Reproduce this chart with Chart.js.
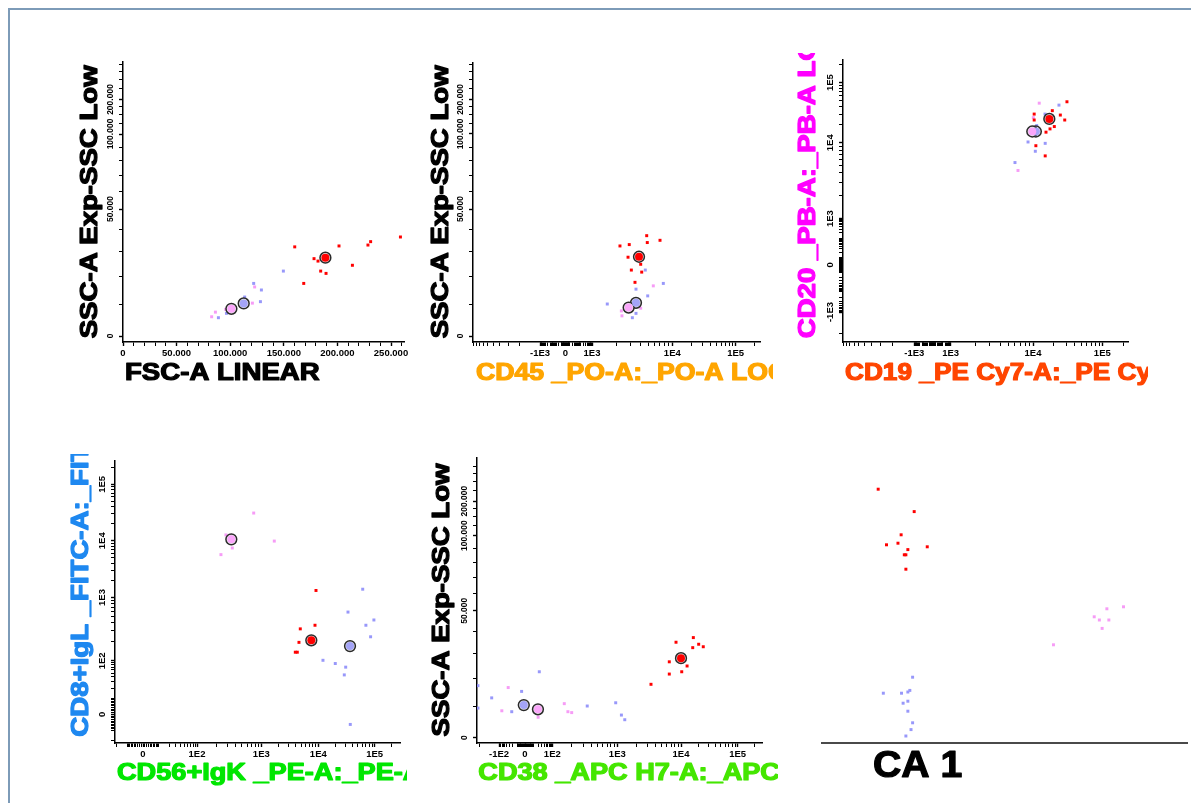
<!DOCTYPE html>
<html>
<head>
<meta charset="utf-8">
<script src="https://cdn.jsdelivr.net/npm/chart.js@4.4.1/dist/chart.umd.min.js"></script>
<style>
  html, body { margin: 0; background: #fff; width: 1191px; height: 803px; overflow: hidden; }
  #frame { position: absolute; left: 8px; top: 8px; right: 0; bottom: 0;
           border-left: 2px solid #7d9bb8; border-top: 2px solid #7d9bb8; }
  canvas { position: absolute; }
</style>
</head>
<body>
<div id="frame"></div>
<canvas id="p1" width="350" height="355" style="left:70px;top:45px"></canvas>
<canvas id="p2" width="353" height="355" style="left:420px;top:45px"></canvas>
<canvas id="p3" width="358" height="347" style="left:790px;top:53px"></canvas>
<canvas id="p4" width="347" height="346" style="left:60px;top:454px"></canvas>
<canvas id="p5" width="358" height="355" style="left:420px;top:445px"></canvas>
<canvas id="p6" width="391" height="340" style="left:800px;top:460px"></canvas>
<script>
const RED = '#ff0000', BLUE = '#9898fa', PINK = '#f69cf6';
const BLUE_M = '#a4a4f8', PINK_M = '#fba6fb';

// plot 1: FSC-A (x) vs SSC-A (y)
const p1RedX = [160200, 201500, 228500, 231000, 258800, 178200, 181900, 184400, 189400, 214000, 168600];
const p1RedY = [32100, 32500, 32900, 34400, 36500, 27100, 26100, 22100, 21200, 24400, 17400];
const p1BlueX = [149600, 121900, 129100, 128200, 113500, 96500, 89000];
const p1BlueY = [22100, 17400, 15000, 10900, 12500, 7000, 5600];
const p1PinkX = [122800, 120700, 86200, 82700, 95800];
const p1PinkY = [16100, 10400, 7400, 5900, 8300];
const p1MedX = [188800, 112600, 101100]; // red, blue, pink
const p1MedY = [27500, 10300, 8500];

// plot 2: CD45 (x) vs SSC-A (y)
const p2RedX = [4800, 7030, 4880, 2910, 2230, 2810, 4040, 3090, 4160, 3430];
const p2RedY = [37100, 35000, 34000, 33100, 32500, 27700, 24800, 22500, 21700, 17800];
const p2BlueX = [4610, 7730, 3530, 4940, 1550, 3530, 3180];
const p2BlueY = [22500, 17400, 15300, 12900, 10100, 7000, 5600];
const p2PinkX = [5800, 2320, 2360, 4040];
const p2PinkY = [16500, 7800, 6200, 8700];
const p2MedX = [3850, 3530, 2860];
const p2MedY = [27900, 10500, 8900];

// plot 3: CD19 (x) vs CD20 (y)
const p3RedX = [30900, 24800, 28700, 19000, 10400, 10400, 20300, 17600, 15400, 11000, 15000];
const p3RedY = [48100, 28900, 23900, 34200, 30000, 23900, 18600, 17000, 15000, 9140, 6710];
const p3BlueX = [23700, 14900, 11300, 8700, 15000, 10800, 6040];
const p3BlueY = [42300, 30000, 19300, 10300, 9820, 7720, 5480];
const p3PinkX = [12300, 10100, 6570];
const p3PinkY = [45600, 26200, 4310];
const p3MedX = [17200, 11000, 9800];
const p3MedY = [24900, 15400, 15400];

// plot 4: CD56+IgK (x) vs CD8+IgL (y)
const p4RedX = [9110, 8750, 4830, 4580, 3950, 4280];
const p4RedY = [1330, 365, 320, 196, 137, 137];
const p4BlueX = [61300, 33600, 69800, 96800, 84600, 12100, 20000, 30600, 28900, 36900];
const p4BlueY = [1400, 589, 365, 442, 240, 102, 86, 70, 45, -6];
const p4PinkX = [762, 282, 1690, 354, 236];
const p4PinkY = [31000, 12700, 9880, 7460, 5700];
const p4MedX = [7540, 36500, 342];
const p4MedY = [211, 171, 10600];

// plot 5: CD38 (x) vs SSC-A (y)
const p5RedX = [16500, 8350, 20500, 24700, 16100, 6550, 12800, 6550, 10300, 3380];
const p5RedY = [37000, 34900, 34000, 32900, 32500, 26500, 24800, 21600, 22500, 17700];
const p5BlueX = [23, -4, -129, -208, -208, -22, 345, 945, 1160, 1310];
const p5BlueY = [22500, 15100, 12800, 17200, 9300, 8100, 10000, 11100, 7000, 5500];
const p5PinkX = [-34, -72, 153, 174, 199, 20];
const p5PinkY = [16500, 8400, 10800, 8100, 7800, 6300];
const p5MedX = [10000, -1.4, 19.5];
const p5MedY = [28000, 10300, 8900];

// plot 6: canonical analysis CA 1 (x) vs CA 2 (y)
const p6RedX = [-3.03, -2.12, -2.45, -2.82, -2.53, -2.28, -2.37, -2.33, -1.79, -2.33];
const p6RedY = [3.27, 2.71, 2.13, 1.88, 1.92, 1.76, 1.63, 1.63, 1.83, 1.27];
const p6BlueX = [-2.16, -2.9, -2.44, -2.28, -2.23, -2.4, -2.28, -2.28, -2.16, -2.2, -2.33];
const p6BlueY = [-1.43, -1.83, -1.83, -1.8, -1.76, -2.08, -2.03, -2.28, -2.57, -2.74, -2.9];
const p6PinkX = [2.75, 3.17, 2.43, 2.56, 2.8, 2.63, 1.4];
const p6PinkY = [0.28, 0.33, 0.08, 0, 0, -0.21, -0.62];

// tick labels
const fscTicks = [0, 50000, 100000, 150000, 200000, 250000];
const fscLabels = ['0', '50.000', '100.000', '150.000', '200.000', '250.000'];
const sscTicks = [0, 50000, 100000, 200000];
const sscLabels = ['0', '50.000', '100.000', '200.000'];
const cd45Ticks = [-1000, 0, 1000, 10000, 100000];
const cd45Labels = ['-1E3', '0', '1E3', '1E4', '1E5'];
const cd19Ticks = [-1000, 1000, 10000, 100000];
const cd19Labels = ['-1E3', '1E3', '1E4', '1E5'];
const cd20Ticks = [-1000, 0, 1000, 10000, 100000];
const cd20Labels = ['-1E3', '0', '1E3', '1E4', '1E5'];
const decTicks = [0, 100, 1000, 10000, 100000];
const decLabels = ['0', '1E2', '1E3', '1E4', '1E5'];
const cd38Ticks = [-100, 0, 100, 1000, 10000, 100000];
const cd38Labels = ['-1E2', '0', '1E2', '1E3', '1E4', '1E5'];

// ---- axis transforms (scale units = pixels from the zero tick) ----
function warped(warp, vals, pos) {
  const w = vals.map(warp);
  return v => {
    const x = warp(v);
    let i = 0;
    while (i < w.length - 2 && x > w[i + 1]) i++;
    return pos[i] + (x - w[i]) * (pos[i + 1] - pos[i]) / (w[i + 1] - w[i]);
  };
}
const asw = v => Math.asinh(v / 10);
const sscWarp = v => Math.log(1 + v / 66700);

const fscPos = v => v * 53.6 / 50000;
const sscPos = warped(sscWarp, [0, 50000, 100000, 200000, 400000], [0, 126.9, 202, 236.5, 271.2]);
const cd45Pos = warped(asw, [-10000, -1000, 0, 1000, 10000, 100000], [-92.3, -25.3, 0, 26.7, 107, 170.4]);
const cd19Pos = warped(asw, [-10000, -1000, 0, 1000, 10000, 100000], [-89.5, -18.2, 0, 18.2, 100.5, 169.8]);
const cd20Pos = warped(asw, [-10000, -1000, 0, 1000, 10000, 100000], [-120, -47.7, 0, 46.7, 123.3, 184]);
const cd56Pos = warped(asw, [-100, 0, 100, 1000, 10000, 100000], [-54, 0, 54, 118.3, 175.3, 231.7]);
const cd8Pos = warped(asw, [-100, 0, 100, 1000, 10000, 100000], [-54, 0, 54, 118, 175.3, 232.3]);
const cd38Pos = warped(asw, [-1000, -100, 0, 100, 1000, 10000, 100000], [-92.3, -26, 0, 27.3, 92.3, 156, 212.7]);

const logMinor = [0];
for (let d = 1; d <= 100000; d *= 10) for (let k = 1; k <= 9; k++) logMinor.push(k * d, -k * d);
const fscMinor = [];
for (let v = 10000; v <= 260000; v += 10000) fscMinor.push(v);
const sscMinor = [10000, 20000, 30000, 40000, 60000, 70000, 80000, 90000, 125000, 150000, 175000, 250000, 300000, 350000, 400000];

const FAMILY = '"Liberation Sans", Arial, sans-serif';
const meas = document.createElement('canvas').getContext('2d');
function widest(labels, size) {
  meas.font = `bold ${size}px ${FAMILY}`;
  return Math.max(...labels.map(l => meas.measureText(l).width));
}

function axis(isX, t, min, max, majors, labels, minors, size, fontSize = 9.5) {
  const list = majors.map((v, i) => ({ value: t(v), lbl: labels[i], big: true }));
  minors.filter(v => !majors.includes(v)).forEach(v => list.push({ value: t(v), lbl: '', big: false }));
  const ticks = list.filter(k => k.value >= min - 0.01 && k.value <= max + 0.01).sort((a, b) => a.value - b.value);
  return {
    type: 'linear', min, max,
    afterBuildTicks: s => { s.ticks = ticks.map(k => ({ ...k })); },
    afterFit: s => { if (isX) s.height = size; else s.width = size; },
    grid: { drawOnChartArea: false, tickLength: 4, tickColor: '#000',
            tickWidth: c => (c.tick && c.tick.big ? 1.4 : 1) },
    border: { color: '#000', width: 1.5 },
    ticks: {
      autoSkip: false, maxTicksLimit: 1000, color: '#000',
      font: { family: FAMILY, size: fontSize, weight: 'bold' },
      padding: isX ? 2 : 8.5 - widest(labels, fontSize) / 2,
      minRotation: isX ? 0 : 90, maxRotation: isX ? 0 : 90,
      crossAlign: isX ? 'near' : 'center',
      callback: (v, i, arr) => arr[i].lbl
    }
  };
}

const axisTitles = {
  id: 'axisTitles',
  afterDraw(chart, args, o) {
    const { ctx, chartArea: a } = chart;
    const put = (t, x, y, rot) => {
      ctx.save();
      ctx.translate(x, y);
      ctx.rotate(rot);
      ctx.scale(t.stretch || o.stretch, 1);
      ctx.font = `bold ${o.size}px ${FAMILY}`;
      ctx.textBaseline = 'middle';
      ctx.fillStyle = ctx.strokeStyle = t.color;
      ctx.lineWidth = 1.2;
      ctx.lineJoin = 'round';
      ctx.strokeText(t.text, 0, 0);
      ctx.fillText(t.text, 0, 0);
      ctx.restore();
    };
    if (o.x) put(o.x, a.left + o.x.dx, a.bottom + o.x.dy, 0);
    if (o.y) put(o.y, a.left - o.y.dx, a.bottom - o.y.dy, -Math.PI / 2);
  }
};

const pts = (xs, ys, tx, ty) => xs.map((v, i) => ({ x: tx(v), y: ty(ys[i]) }));
function cellSets(tx, ty, groups, medX, medY) {
  const sets = [];
  if (medX) {
    sets.push({ data: pts(medX, medY, tx, ty), pointRadius: 4, backgroundColor: [RED, BLUE_M, PINK_M], borderWidth: 0 });
    sets.push({ data: pts(medX, medY, tx, ty), pointRadius: 5.4, backgroundColor: '#e6e6e6', borderColor: '#2a2a2a', borderWidth: 1.5 });
  }
  groups.forEach(([xs, ys, col]) => sets.push({
    data: pts(xs, ys, tx, ty), pointStyle: 'rect', pointRadius: 2.1, backgroundColor: col, borderWidth: 0
  }));
  return sets;
}

function plot(id, datasets, x, y, padding, titles) {
  new Chart(document.getElementById(id), {
    type: 'scatter',
    data: { datasets },
    options: {
      responsive: false, animation: false, devicePixelRatio: 1,
      layout: { padding },
      plugins: { legend: { display: false }, tooltip: { enabled: false }, axisTitles: titles },
      scales: { x, y }
    },
    plugins: [axisTitles]
  });
}

const same = v => v;

plot('p1',
  cellSets(fscPos, sscPos, [[p1RedX, p1RedY, RED], [p1BlueX, p1BlueY, BLUE], [p1PinkX, p1PinkY, PINK]], p1MedX, p1MedY),
  axis(true, fscPos, 0, 281, fscTicks, fscLabels, fscMinor, 58),
  axis(false, sscPos, -6, 274, sscTicks, sscLabels, sscMinor, 53, 8.5),
  { left: 0, top: 17, right: 16, bottom: 0 },
  { size: 23, stretch: 1.2,
    x: { text: 'FSC-A LINEAR', color: '#000', dx: 2, dy: 31.6 },
    y: { text: 'SSC-A Exp-SSC Low', color: '#000', dx: 32.6, dy: 3.7 } });

plot('p2',
  cellSets(cd45Pos, sscPos, [[p2RedX, p2RedY, RED], [p2BlueX, p2BlueY, BLUE], [p2PinkX, p2PinkY, PINK]], p2MedX, p2MedY),
  axis(true, cd45Pos, -92.3, 194.7, cd45Ticks, cd45Labels, logMinor, 58),
  axis(false, sscPos, -6, 273, sscTicks, sscLabels, sscMinor, 53, 8.5),
  { left: 0, top: 18, right: 13, bottom: 0 },
  { size: 23, stretch: 1.2,
    x: { text: 'CD45 _PO-A:_PO-A LOG', color: '#ffa500', dx: 3, dy: 31.6, stretch: 1.16 },
    y: { text: 'SSC-A Exp-SSC Low', color: '#000', dx: 31.6, dy: 3.7 } });

plot('p3',
  cellSets(cd19Pos, cd20Pos, [[p3RedX, p3RedY, RED], [p3BlueX, p3BlueY, BLUE], [p3PinkX, p3PinkY, PINK]], p3MedX, p3MedY),
  axis(true, cd19Pos, -89.5, 195.5, cd19Ticks, cd19Labels, logMinor, 58),
  axis(false, cd20Pos, -78, 207, cd20Ticks, cd20Labels, logMinor, 53),
  { left: 0, top: 4, right: 20, bottom: 0 },
  { size: 23, stretch: 1.2,
    x: { text: 'CD19 _PE Cy7-A:_PE Cy7-A LOG', color: '#ff4500', dx: 2, dy: 31.6, stretch: 1.14 },
    y: { text: 'CD20 _PB-A:_PB-A LOG', color: '#ff00ff', dx: 34.3, dy: 3.7 } });

plot('p4',
  cellSets(cd56Pos, cd8Pos, [[p4RedX, p4RedY, RED], [p4BlueX, p4BlueY, BLUE], [p4PinkX, p4PinkY, PINK]], p4MedX, p4MedY),
  axis(true, cd56Pos, -28, 257, decTicks, decLabels, logMinor, 57),
  axis(false, cd8Pos, -29, 256, decTicks, decLabels, logMinor, 55),
  { left: 0, top: 4, right: 7, bottom: 0 },
  { size: 23, stretch: 1.2,
    x: { text: 'CD56+IgK _PE-A:_PE-A LOG', color: '#00e600', dx: 2, dy: 30.3, stretch: 1.18 },
    y: { text: 'CD8+IgL _FITC-A:_FITC-A LOG', color: '#1e88f0', dx: 33.3, dy: 6.3 } });

plot('p5',
  cellSets(cd38Pos, sscPos, [[p5RedX, p5RedY, RED], [p5BlueX, p5BlueY, BLUE], [p5PinkX, p5PinkY, PINK]], p5MedX, p5MedY),
  axis(true, cd38Pos, -48, 237, cd38Ticks, cd38Labels, logMinor, 57),
  axis(false, sscPos, -5.3, 279.7, sscTicks, sscLabels, sscMinor, 57, 8.5),
  { left: 0, top: 13, right: 16, bottom: 0 },
  { size: 23, stretch: 1.2,
    x: { text: 'CD38 _APC H7-A:_APC H7-A LOG', color: '#44e600', dx: 1.3, dy: 30.3, stretch: 1.18 },
    y: { text: 'SSC-A Exp-SSC Low', color: '#000', dx: 34, dy: 6.6 } });

plot('p6',
  cellSets(same, same, [[p6RedX, p6RedY, RED], [p6BlueX, p6BlueY, BLUE], [p6PinkX, p6PinkY, PINK]]),
  { type: 'linear', min: -4.45, max: 4.775, afterFit: s => { s.height = 0; },
    ticks: { display: false }, grid: { display: false }, border: { color: '#4a4a4a', width: 2 } },
  { type: 'linear', display: false, min: -3.075, max: 3.75 },
  { left: 22, top: 10, right: 0, bottom: 57 },
  { size: 37, stretch: 1.06,
    x: { text: 'CA 1', color: '#000', dx: 51, dy: 24 } });
</script>
</body>
</html>
